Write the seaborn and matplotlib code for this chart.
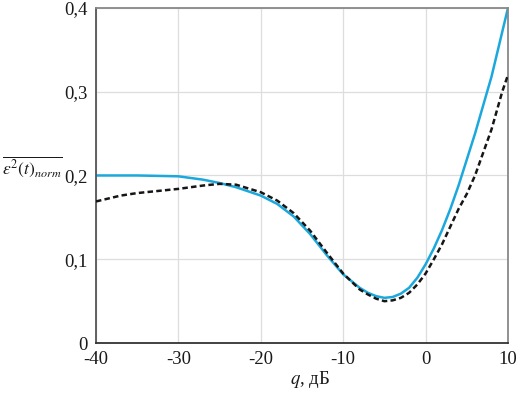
import pandas as pd
import numpy as np
import matplotlib
matplotlib.use("Agg")
import matplotlib.pyplot as plt
import matplotlib.ticker as mticker
import seaborn as sns

# значения
q_blue = [-40, -35, -30, -27, -25, -23, -20, -18, -16, -14, -12, -10, -8, -7, -6, -5, -4, -3, -2, -1,
          0, 1, 2, 3, 4, 6, 8, 10]
eps_blue = [0.200, 0.200, 0.199, 0.195, 0.191, 0.186, 0.176, 0.166, 0.151, 0.130, 0.105, 0.082,
            0.066, 0.060, 0.056, 0.054, 0.055, 0.059, 0.066, 0.078, 0.094, 0.113, 0.135, 0.160,
            0.188, 0.250, 0.318, 0.400]

q_dash = [-40, -37, -35, -32, -30, -27, -25, -23, -20, -18, -16, -14, -12, -10, -8, -7, -6, -5, -4,
          -3, -2, -1, 0, 1, 2, 4, 5, 6, 8, 9.3, 10]
eps_dash = [0.169, 0.176, 0.179, 0.182, 0.184, 0.188, 0.190, 0.189, 0.180, 0.170, 0.155, 0.134,
            0.108, 0.083, 0.064, 0.058, 0.053, 0.050, 0.051, 0.054, 0.060, 0.070, 0.083, 0.100,
            0.118, 0.160, 0.178, 0.200, 0.255, 0.300, 0.320]

x_ticks = [-40, -30, -20, -10, 0, 10]
y_ticks = [0, 0.1, 0.2, 0.3, 0.4]

dfBlue = pd.DataFrame({"q": q_blue, "eps": eps_blue})
dfDash = pd.DataFrame({"q": q_dash, "eps": eps_dash})

sns.set_style("white")
plt.rcParams["font.family"] = ["Liberation Serif", "DejaVu Serif"]
plt.rcParams["mathtext.fontset"] = "stix"
plt.rcParams["axes.unicode_minus"] = False

fig = plt.figure(figsize=(5.16, 3.93), dpi=100)
ax = fig.add_axes([0.186, 0.127, 0.7985, 0.853])

sns.lineplot(data=dfDash, x="q", y="eps", color="#161616", linewidth=1.8,
             linestyle=(0, (2.2, 1.3)), ax=ax, zorder=3)
sns.lineplot(data=dfBlue, x="q", y="eps", color="#1ba8dc", linewidth=1.8, ax=ax, zorder=2)

ax.set_xlim(-40, 10)
ax.set_ylim(0, 0.4)
ax.set_xticks(x_ticks)
ax.set_yticks(y_ticks)
ax.yaxis.set_major_formatter(mticker.FuncFormatter(
    lambda v, p: "0" if v == 0 else f"{v:.1f}".replace(".", ",")))
ax.tick_params(axis="both", labelsize=13.5, length=0, pad=6, colors="#1a1a1a")
ax.grid(True, color="#dddddd", linewidth=0.9)

for side in ["top", "right"]:
    ax.spines[side].set_color("#888888")
ax.spines["left"].set_color("#555555")
ax.spines["bottom"].set_color("#333333")
for s in ax.spines.values():
    s.set_linewidth(1.3)

ax.set_xlabel("")
ax.set_ylabel("")
fig.text(0.60, 0.008, r"$q$, дБ", fontsize=13.5, ha="center", va="bottom", color="#1a1a1a")
fig.text(0.063, 0.575, r"$\overline{\varepsilon^2(t)_{norm}}$", fontsize=12.5,
         ha="center", va="center", color="#1a1a1a")

plt.savefig("out.png", dpi=100)
